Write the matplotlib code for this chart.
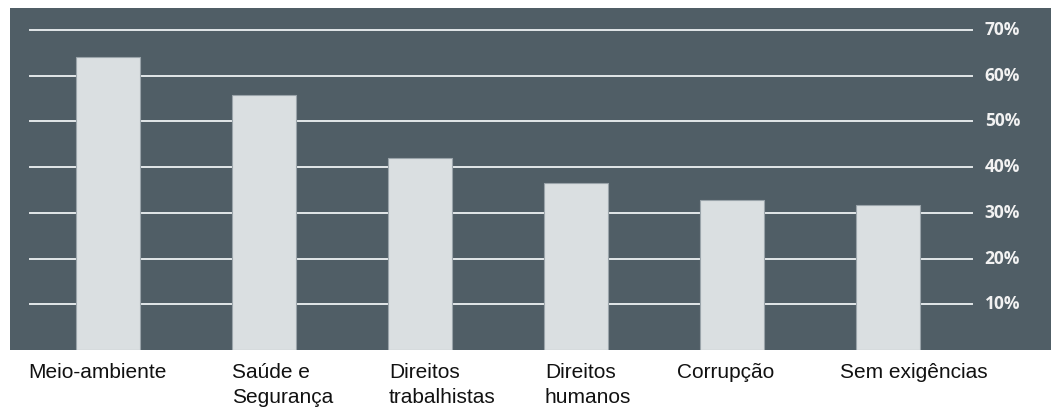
import matplotlib
matplotlib.use("Agg")
import matplotlib.pyplot as plt

# dados do gráfico
categorias = ["Meio-ambiente", "Saúde e\nSegurança", "Direitos\ntrabalhistas",
              "Direitos\nhumanos", "Corrupção", "Sem exigências"]
valores = [64.1, 55.8, 42.0, 36.6, 32.7, 31.7]
ticks = [10, 20, 30, 40, 50, 60, 70]
tick_labels = ["10%", "20%", "30%", "40%", "50%", "60%", "70%"]

fundo = "#505e66"
cor_barra = "#dadfe1"

fig = plt.figure(figsize=(10.51, 4.07), dpi=100)
ax = fig.add_axes([10 / 1051, 57 / 407, 1041 / 1051, 342 / 407])
ax.set_facecolor(fundo)

x = range(len(valores))

# linhas de grade (atrás das barras)
for t, lab in zip(ticks, tick_labels):
    ax.plot([-0.5, 5.54], [t, t], color="#e3e7e9", lw=1.4, zorder=1)
    ax.text(5.62, t, lab, color="#f2f2f2", fontsize=12.5, fontweight="bold",
            family=["Open Sans", "DejaVu Sans"], va="center", ha="left")

ax.bar(x, valores, width=0.41, color=cor_barra, edgecolor="#9aa4aa",
       linewidth=0.8, zorder=2)

# rótulos das categorias, alinhados à esquerda
label_x = [-0.513, 0.795, 1.80, 2.80, 3.65, 4.69]
for lx, cat in zip(label_x, categorias):
    ax.text(lx, -2.8, cat, color="#111111", fontsize=15.0,
            family=["Liberation Sans", "DejaVu Sans"], ha="left", va="top",
            linespacing=1.38, clip_on=False)

ax.set_xlim(-0.628, 6.045)
ax.set_ylim(0, 74.8)
ax.set_xticks([])
ax.set_yticks([])
for s in ax.spines.values():
    s.set_visible(False)

fig.savefig("out.png", dpi=100)
